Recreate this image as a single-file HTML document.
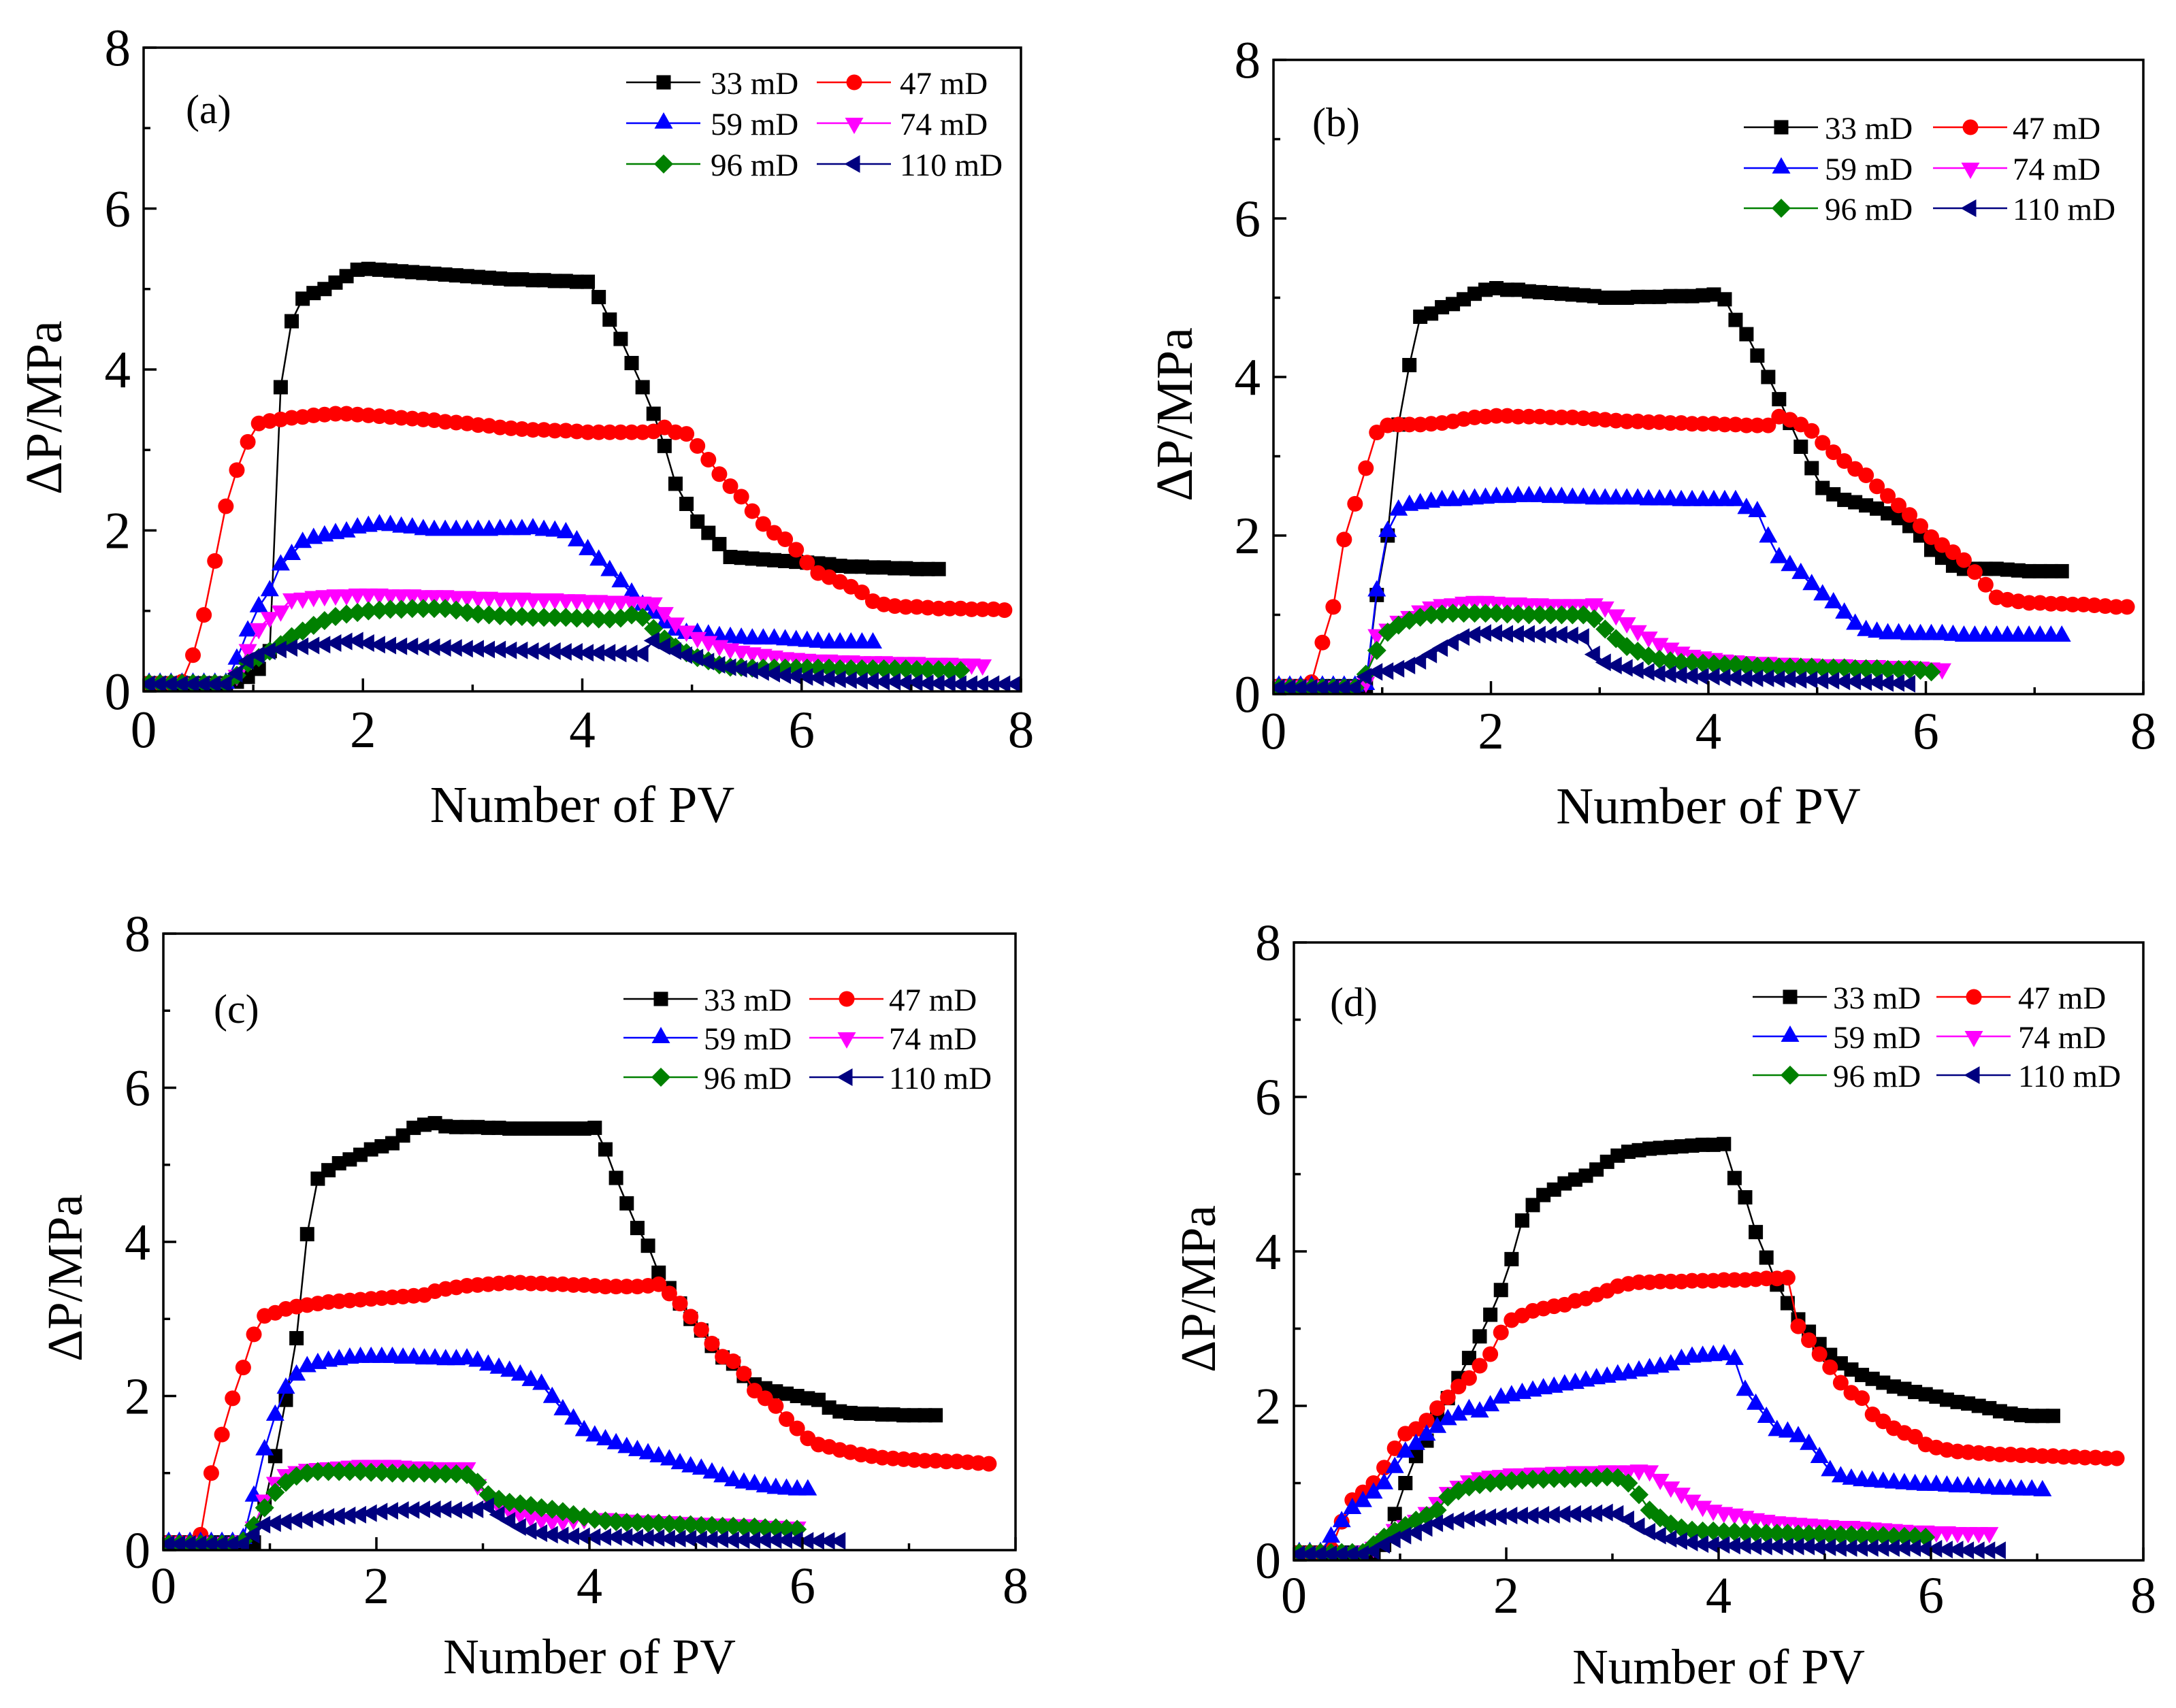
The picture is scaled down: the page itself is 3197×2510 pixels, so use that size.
<!DOCTYPE html>
<html lang="en">
<head>
<meta charset="utf-8">
<title>Pressure difference versus number of PV</title>
<style>
html,body{margin:0;padding:0;background:#fff;}
svg{display:block;}
text{font-family:"Liberation Serif","DejaVu Serif",serif;fill:#000;}
</style>
</head>
<body>
<svg id="figure" xmlns="http://www.w3.org/2000/svg" width="3197" height="2510" viewBox="0 0 3197 2510"></svg>
<script>
const pvValues = [
.05,.15,.25,.35,.45,.55,.65,.75,.85,.95,
1.05,1.15,1.25,1.35,1.45,1.55,1.65,1.75,1.85,1.95,
2.05,2.15,2.25,2.35,2.45,2.55,2.65,2.75,2.85,2.95,
3.05,3.15,3.25,3.35,3.45,3.55,3.65,3.75,3.85,3.95,
4.05,4.15,4.25,4.35,4.45,4.55,4.65,4.75,4.85,4.95,
5.05,5.15,5.25,5.35,5.45,5.55,5.65,5.75,5.85,5.95,
6.05,6.15,6.25,6.35,6.45,6.55,6.65,6.75,6.85,6.95,
7.05,7.15,7.25,7.35,7.45,7.55,7.65,7.75,7.85,7.95];

const seriesLabels = ['33 mD','47 mD','59 mD','74 mD','96 mD','110 mD'];
const majorTicks = [0,2,4,6,8];
const minorTicks = [1,3,5,7];

const a33 = [
.1,.1,.1,.1,.1,.1,.1,.1,.12,.18,
.28,.5,3.78,4.6,4.88,4.95,5.0,5.08,5.16,5.24,
5.25,5.24,5.23,5.22,5.21,5.2,5.19,5.18,5.17,5.16,
5.15,5.14,5.13,5.12,5.12,5.11,5.11,5.1,5.1,5.09,
5.09,4.9,4.62,4.38,4.08,3.78,3.45,3.05,2.58,2.33,
2.11,1.97,1.83,1.67,1.66,1.65,1.64,1.63,1.62,1.61,
1.6,1.59,1.58,1.56,1.55,1.55,1.54,1.54,1.53,1.53,
1.52,1.52,1.52];
const a47 = [
.1,.1,.1,.12,.45,.95,1.62,2.3,2.75,3.1,
3.33,3.36,3.38,3.4,3.41,3.43,3.44,3.45,3.45,3.44,
3.43,3.42,3.41,3.4,3.39,3.38,3.37,3.35,3.34,3.33,
3.31,3.3,3.28,3.27,3.26,3.25,3.25,3.24,3.24,3.23,
3.22,3.22,3.22,3.22,3.22,3.22,3.23,3.28,3.22,3.2,
3.05,2.88,2.7,2.55,2.42,2.24,2.08,1.97,1.89,1.76,
1.6,1.47,1.42,1.36,1.3,1.23,1.12,1.08,1.06,1.05,
1.05,1.04,1.03,1.03,1.03,1.02,1.02,1.02,1.01];
const a59 = [
.1,.1,.1,.1,.1,.1,.1,.1,.4,.75,
1.05,1.25,1.57,1.7,1.85,1.9,1.93,1.96,1.98,2.03,
2.05,2.07,2.06,2.04,2.03,2.01,2.0,2.0,2.0,2.0,
2.0,2.0,2.01,2.01,2.01,2.02,2.0,1.99,1.97,1.87,
1.76,1.63,1.5,1.36,1.22,1.07,.97,.85,.76,.72,
.72,.7,.68,.67,.66,.65,.65,.65,.64,.63,
.62,.61,.6,.6,.6,.6,.6];
const a74 = [
.1,.1,.1,.1,.1,.1,.1,.1,.2,.52,
.78,.92,1.0,1.15,1.16,1.18,1.19,1.2,1.2,1.21,
1.21,1.21,1.2,1.2,1.2,1.19,1.19,1.19,1.18,1.18,
1.17,1.17,1.16,1.16,1.16,1.15,1.15,1.15,1.14,1.14,
1.13,1.13,1.12,1.12,1.11,1.11,1.1,.98,.85,.75,
.67,.62,.57,.53,.5,.48,.46,.44,.42,.41,
.4,.39,.39,.38,.38,.37,.37,.37,.36,.36,
.36,.35,.35,.35,.34,.34,.33];
const a96 = [
.1,.1,.1,.1,.1,.1,.1,.1,.2,.35,
.42,.5,.58,.68,.75,.82,.88,.93,.96,.98,
1.0,1.01,1.02,1.02,1.03,1.03,1.03,1.03,1.01,.98,
.96,.95,.94,.93,.93,.92,.92,.92,.92,.91,
.91,.9,.9,.91,.95,.92,.78,.65,.55,.48,
.42,.38,.33,.3,.3,.29,.29,.29,.29,.29,
.29,.29,.29,.28,.28,.28,.28,.28,.28,.28,
.27,.27,.27,.26,.26];
const a110 = [
.09,.09,.09,.09,.09,.09,.09,.09,.22,.38,
.45,.5,.52,.54,.56,.57,.58,.6,.62,.63,
.6,.58,.57,.56,.56,.55,.55,.54,.54,.53,
.53,.52,.52,.51,.51,.5,.5,.5,.49,.49,
.48,.48,.48,.47,.47,.47,.63,.56,.5,.45,
.42,.37,.33,.3,.28,.26,.24,.22,.2,.19,
.18,.17,.16,.15,.14,.13,.13,.12,.12,.11,
.11,.1,.1,.1,.09,.09,.09,.09,.09,.09];

const b33 = [
.1,.1,.1,.1,.1,.1,.1,.1,.1,1.25,
2.0,3.4,4.15,4.76,4.8,4.88,4.92,4.98,5.05,5.1,
5.12,5.1,5.1,5.08,5.07,5.06,5.05,5.04,5.03,5.02,
5.0,5.0,5.0,5.01,5.01,5.01,5.02,5.02,5.02,5.03,
5.04,4.98,4.72,4.54,4.27,4.0,3.72,3.42,3.12,2.85,
2.6,2.52,2.45,2.42,2.38,2.34,2.28,2.22,2.12,2.0,
1.82,1.72,1.62,1.58,1.58,1.58,1.58,1.57,1.56,1.55,
1.55,1.55,1.55];
const b47 = [
.1,.1,.1,.15,.65,1.1,1.95,2.4,2.85,3.3,
3.39,3.4,3.4,3.4,3.41,3.42,3.44,3.47,3.49,3.5,
3.51,3.51,3.5,3.5,3.5,3.49,3.49,3.49,3.48,3.47,
3.46,3.45,3.44,3.44,3.43,3.43,3.42,3.42,3.41,3.41,
3.41,3.4,3.4,3.39,3.39,3.39,3.5,3.46,3.4,3.32,
3.17,3.05,2.94,2.84,2.76,2.62,2.5,2.38,2.26,2.12,
1.98,1.88,1.79,1.69,1.54,1.38,1.22,1.19,1.17,1.15,
1.15,1.14,1.14,1.13,1.13,1.12,1.11,1.1,1.1];
const b59 = [
.1,.1,.1,.1,.1,.1,.1,.1,.12,1.3,
2.05,2.32,2.38,2.4,2.42,2.44,2.44,2.45,2.46,2.47,
2.48,2.48,2.49,2.49,2.49,2.48,2.48,2.47,2.47,2.46,
2.46,2.46,2.46,2.46,2.45,2.45,2.45,2.44,2.44,2.44,
2.44,2.44,2.44,2.34,2.3,1.98,1.72,1.62,1.52,1.38,
1.25,1.15,1.02,.88,.8,.78,.76,.76,.75,.75,
.75,.75,.74,.73,.73,.73,.73,.73,.73,.73,
.73,.73,.73];
const b74 = [
.1,.1,.1,.1,.1,.1,.1,.1,.15,.75,
.82,.92,.98,1.05,1.1,1.13,1.14,1.16,1.17,1.17,
1.16,1.15,1.15,1.14,1.14,1.13,1.13,1.13,1.13,1.14,
1.1,1.0,.9,.8,.72,.64,.58,.53,.49,.47,
.45,.43,.42,.41,.4,.4,.39,.39,.38,.38,
.37,.37,.37,.36,.36,.36,.35,.35,.35,.34,
.33,.32];
const b96 = [
.08,.08,.08,.08,.08,.08,.08,.08,.25,.55,
.78,.87,.93,.97,1.0,1.01,1.02,1.02,1.02,1.02,
1.02,1.01,1.01,1.0,1.0,1.0,1.0,1.0,1.0,.95,
.82,.7,.6,.54,.48,.44,.42,.4,.4,.39,
.38,.37,.37,.36,.35,.35,.34,.34,.34,.34,
.33,.33,.33,.32,.32,.32,.31,.31,.31,.3,
.28];
const b110 = [
.08,.08,.08,.08,.08,.08,.08,.08,.22,.28,
.29,.32,.36,.42,.5,.58,.65,.72,.75,.77,
.77,.76,.76,.76,.75,.75,.75,.74,.72,.5,
.4,.36,.33,.3,.28,.26,.25,.24,.23,.22,
.22,.21,.21,.2,.2,.2,.19,.19,.18,.18,
.17,.17,.16,.16,.15,.15,.14,.14,.13];

const c33 = [
.1,.1,.1,.1,.1,.1,.1,.1,.1,.6,
1.22,1.95,2.75,4.1,4.82,4.93,5.02,5.07,5.13,5.2,
5.24,5.28,5.38,5.48,5.52,5.54,5.5,5.49,5.49,5.49,
5.48,5.48,5.47,5.47,5.47,5.47,5.47,5.47,5.47,5.47,
5.48,5.2,4.83,4.5,4.18,3.95,3.6,3.4,3.2,3.0,
2.85,2.65,2.5,2.42,2.26,2.15,2.1,2.06,2.03,2.0,
1.97,1.95,1.85,1.8,1.78,1.77,1.77,1.76,1.76,1.75,
1.75,1.75,1.75];
const c47 = [
.1,.1,.1,.2,1.0,1.5,1.97,2.37,2.8,3.04,
3.08,3.13,3.16,3.18,3.2,3.22,3.23,3.24,3.25,3.26,
3.27,3.28,3.29,3.3,3.31,3.36,3.39,3.41,3.43,3.44,
3.45,3.46,3.47,3.47,3.46,3.46,3.45,3.45,3.44,3.44,
3.43,3.42,3.42,3.42,3.42,3.43,3.45,3.33,3.2,3.03,
2.86,2.68,2.51,2.45,2.29,2.07,1.97,1.87,1.7,1.58,
1.45,1.37,1.34,1.3,1.27,1.24,1.22,1.2,1.19,1.18,
1.17,1.16,1.16,1.15,1.15,1.14,1.13,1.12];
const c59 = [
.1,.1,.1,.1,.1,.1,.1,.15,.7,1.3,
1.75,2.1,2.27,2.38,2.42,2.45,2.47,2.49,2.5,2.5,
2.5,2.5,2.49,2.49,2.48,2.48,2.47,2.47,2.48,2.45,
2.4,2.36,2.32,2.27,2.2,2.15,1.98,1.82,1.7,1.55,
1.48,1.43,1.38,1.33,1.29,1.25,1.21,1.17,1.12,1.08,
1.05,1.0,.95,.9,.87,.85,.82,.8,.79,.78,
.78];
const c74 = [
.1,.1,.1,.1,.1,.1,.1,.12,.3,.65,
.88,.98,1.02,1.05,1.06,1.07,1.08,1.09,1.1,1.1,
1.1,1.1,1.09,1.08,1.08,1.07,1.07,1.07,1.07,.85,
.68,.58,.52,.47,.43,.4,.38,.38,.4,.41,
.41,.41,.4,.39,.38,.38,.37,.37,.36,.35,
.35,.34,.34,.33,.33,.32,.31,.31,.3,.3];
const c96 = [
.08,.08,.08,.08,.08,.08,.08,.12,.32,.55,
.75,.88,.96,1.0,1.02,1.02,1.02,1.02,1.02,1.01,
1.01,1.0,1.0,1.0,1.0,.99,.99,.99,.98,.88,
.72,.66,.62,.6,.58,.55,.53,.5,.46,.43,
.4,.38,.37,.36,.36,.35,.35,.34,.33,.33,
.32,.32,.31,.31,.3,.3,.29,.29,.28,.27];
const c110 = [
.08,.08,.08,.08,.08,.08,.08,.08,.2,.33,
.35,.37,.39,.4,.42,.43,.44,.45,.46,.48,
.5,.51,.52,.52,.53,.53,.53,.52,.52,.53,
.57,.46,.38,.3,.25,.22,.2,.19,.18,.18,
.17,.17,.17,.17,.16,.16,.16,.15,.15,.15,
.14,.14,.14,.13,.13,.13,.13,.13,.13,.13,
.12,.12,.12,.12];

const d33 = [
.1,.1,.1,.1,.1,.1,.1,.1,.2,.6,
1.0,1.35,1.55,1.85,2.1,2.36,2.62,2.9,3.18,3.5,
3.9,4.4,4.6,4.73,4.8,4.88,4.93,4.98,5.06,5.16,
5.24,5.29,5.31,5.33,5.34,5.35,5.36,5.37,5.38,5.38,
5.39,4.95,4.7,4.25,3.92,3.57,3.33,3.12,2.96,2.8,
2.66,2.55,2.47,2.4,2.35,2.3,2.25,2.22,2.18,2.15,
2.12,2.08,2.05,2.03,2.0,1.97,1.93,1.9,1.88,1.87,
1.87,1.87];
const d47 = [
.1,.1,.1,.15,.5,.78,.88,1.0,1.2,1.45,
1.64,1.7,1.81,1.97,2.11,2.25,2.36,2.52,2.67,2.95,
3.11,3.17,3.23,3.26,3.29,3.31,3.36,3.39,3.44,3.49,
3.55,3.58,3.6,3.6,3.61,3.61,3.61,3.62,3.62,3.62,
3.63,3.63,3.63,3.64,3.65,3.65,3.66,3.03,2.85,2.67,
2.5,2.3,2.17,2.1,1.89,1.8,1.71,1.65,1.6,1.5,
1.46,1.43,1.41,1.4,1.39,1.38,1.37,1.37,1.36,1.36,
1.35,1.35,1.34,1.34,1.33,1.33,1.32,1.32];
const d59 = [
.1,.1,.1,.3,.5,.67,.76,.87,.99,1.2,
1.4,1.5,1.62,1.72,1.82,1.88,1.95,1.92,2.0,2.1,
2.13,2.16,2.19,2.22,2.24,2.27,2.29,2.32,2.35,2.37,
2.4,2.42,2.45,2.48,2.5,2.53,2.6,2.63,2.64,2.65,
2.66,2.6,2.2,2.02,1.85,1.68,1.66,1.6,1.5,1.33,
1.16,1.08,1.05,1.03,1.02,1.01,1.0,.99,.98,.97,
.97,.96,.95,.95,.94,.93,.92,.92,.91,.91,
.9];
const d74 = [
.1,.1,.1,.1,.1,.1,.12,.17,.28,.4,
.45,.52,.62,.75,.88,.96,1.03,1.07,1.09,1.1,
1.12,1.12,1.13,1.13,1.14,1.14,1.15,1.15,1.15,1.16,
1.16,1.16,1.17,1.16,1.05,.95,.87,.78,.7,.65,
.62,.6,.57,.54,.52,.5,.49,.48,.47,.46,
.45,.44,.44,.43,.42,.41,.4,.39,.38,.38,
.37,.37,.36,.36,.36,.36];
const d96 = [
.1,.1,.1,.1,.1,.1,.1,.2,.3,.38,
.45,.52,.58,.65,.82,.9,.95,.98,1.0,1.02,
1.03,1.04,1.05,1.05,1.06,1.06,1.06,1.07,1.07,1.08,
1.07,1.0,.85,.65,.55,.47,.42,.39,.38,.38,
.37,.37,.36,.36,.35,.35,.35,.34,.34,.34,
.33,.33,.33,.32,.32,.32,.31,.31,.31,.3];
const d110 = [
.08,.08,.08,.08,.08,.08,.08,.12,.2,.27,
.32,.36,.42,.48,.5,.52,.54,.55,.56,.57,
.58,.58,.58,.59,.59,.6,.6,.6,.61,.62,
.6,.53,.44,.37,.32,.28,.25,.23,.21,.2,
.2,.19,.19,.18,.18,.18,.18,.18,.18,.17,
.17,.16,.16,.16,.16,.16,.16,.16,.16,.15,
.15,.14,.14,.13,.13,.13,.13];

const panelASeries = [a33,a47,a59,a74,a96,a110];
const panelBSeries = [b33,b47,b59,b74,b96,b110];
const panelCSeries = [c33,c47,c59,c74,c96,c110];
const panelDSeries = [d33,d47,d59,d74,d96,d110];

const NS = 'http://www.w3.org/2000/svg';
const figure = document.getElementById('figure');

function make(tag, attrs, parent) {
  const node = document.createElementNS(NS, tag);
  for (const key in attrs) node.setAttribute(key, attrs[key]);
  parent.appendChild(node);
  return node;
}

const seriesStyles = [
  {color:'#000000', shape:'square'},
  {color:'#ff0000', shape:'circle'},
  {color:'#0000ff', shape:'up'},
  {color:'#ff00ff', shape:'down'},
  {color:'#008000', shape:'diamond'},
  {color:'#000080', shape:'left'}
];

function drawMarker(parent, shape, x, y, color) {
  let node;
  if (shape === 'square') {
    node = make('rect', {x:x-10.5, y:y-10.5, width:21, height:21, fill:color}, parent);
  } else if (shape === 'circle') {
    node = make('ellipse', {cx:x, cy:y, rx:11.5, ry:11.5, fill:color}, parent);
  } else {
    const shapes = {
      up: [[0,-16],[13.5,8],[-13.5,8]],
      down: [[0,16],[13.5,-8],[-13.5,-8]],
      diamond: [[0,-14],[14,0],[0,14],[-14,0]],
      left: [[-14.5,0],[8.5,-13],[8.5,13]]
    };
    const pts = shapes[shape].map(p => (x+p[0]) + ',' + (y+p[1])).join(' ');
    node = make('polygon', {points:pts, fill:color}, parent);
  }
  
  
}

function drawPanel(cfg) {
  const group = make('g', {}, figure);
  
  

  const sx = v => cfg.left + (v / 8) * (cfg.right - cfg.left);
  const sy = v => cfg.bottom - (v / 8) * (cfg.bottom - cfg.top);

  const clip = make('clipPath', {id:'plot-clip-' + cfg.key}, group);
  make('rect', {x:cfg.left, y:cfg.top, width:cfg.right-cfg.left, height:cfg.bottom-cfg.top}, clip);

  const plot = make('g', {'clip-path':'url(#plot-clip-' + cfg.key + ')'}, group);
  
  

  cfg.series.forEach((values, s) => {
    const style = seriesStyles[s];
    const sg = make('g', {}, plot);
    
    
    const pts = values.map((v, i) => sx(pvValues[i]).toFixed(1) + ',' + sy(v).toFixed(1)).join(' ');
    const line = make('polyline', {points:pts, fill:'none', stroke:style.color, 'stroke-width':2.5}, sg);
    
    
    values.forEach((v, i) => drawMarker(sg, style.shape, sx(pvValues[i]), sy(v), style.color));
  });

  const frame = make('rect', {x:cfg.left, y:cfg.top, width:cfg.right-cfg.left, height:cfg.bottom-cfg.top, fill:'none', stroke:'#000', 'stroke-width':3.5}, group);
  
  

  majorTicks.forEach(v => {
    const xt = make('line', {x1:sx(v), x2:sx(v), y1:cfg.bottom, y2:cfg.bottom-19, stroke:'#000', 'stroke-width':3.5}, group);
    
    
    const yt = make('line', {x1:cfg.left, x2:cfg.left+19, y1:sy(v), y2:sy(v), stroke:'#000', 'stroke-width':3.5}, group);
    
    
    const xl = make('text', {x:sx(v), y:cfg.bottom+cfg.xTickOffset, 'text-anchor':'middle', 'font-size':cfg.tickSize}, group);
    xl.textContent = String(v);
    
    
    const yl = make('text', {x:cfg.left-19, y:sy(v)+26, 'text-anchor':'end', 'font-size':cfg.tickSize}, group);
    yl.textContent = String(v);
    
    
  });
  minorTicks.forEach(v => {
    const xt = make('line', {x1:sx(v), x2:sx(v), y1:cfg.bottom, y2:cfg.bottom-10, stroke:'#000', 'stroke-width':3.5}, group);
    
    
    const yt = make('line', {x1:cfg.left, x2:cfg.left+10, y1:sy(v), y2:sy(v), stroke:'#000', 'stroke-width':3.5}, group);
    
    
  });

  const xTitle = make('text', {x:(cfg.left+cfg.right)/2, y:cfg.xTitleY, 'text-anchor':'middle', 'font-size':cfg.titleSize}, group);
  xTitle.textContent = 'Number of PV';
  
  

  const yTitle = make('text', {transform:'translate(' + cfg.yTitleX + ',' + cfg.yTitleY + ') rotate(-90)', 'text-anchor':'middle', 'font-size':cfg.titleSize}, group);
  yTitle.textContent = 'ΔP/MPa';
  
  

  const tag = make('text', {x:cfg.tagX, y:cfg.tagY, 'font-size':60}, group);
  tag.textContent = '(' + cfg.key + ')';
  
  

  const legend = make('g', {}, group);
  
  
  seriesLabels.forEach((label, s) => {
    const col = s % 2;
    const row = Math.floor(s / 2);
    const lx = cfg.legendX[col];
    const ly = cfg.legendY[row];
    const style = seriesStyles[s];
    const entry = make('g', {}, legend);
    
    
    make('line', {x1:lx, x2:lx+109, y1:ly, y2:ly, stroke:style.color, 'stroke-width':2.5}, entry);
    drawMarker(entry, style.shape, lx+55, ly, style.color);
    const text = make('text', {x:cfg.legendTextX[col], y:ly+17, 'font-size':47}, entry);
    text.textContent = label;
    
    
  });
}

drawPanel({key:'a', series:panelASeries, left:211, right:1500, top:70, bottom:1016,
  xTickOffset:82, tickSize:77, titleSize:76, xTitleY:1208, yTitleX:90, yTitleY:599,
  tagX:273, tagY:181, legendX:[920,1200], legendY:[121,181,241], legendTextX:[1044,1322]});
drawPanel({key:'b', series:panelBSeries, left:1871, right:3149, top:88, bottom:1020,
  xTickOffset:80, tickSize:77, titleSize:76, xTitleY:1210, yTitleX:1751, yTitleY:609,
  tagX:1928, tagY:200, legendX:[2562,2840], legendY:[187,247,306], legendTextX:[2681,2957]});
drawPanel({key:'c', series:panelCSeries, left:240, right:1492, top:1372, bottom:2278,
  xTickOffset:78, tickSize:76, titleSize:73, xTitleY:2459, yTitleX:120, yTitleY:1878,
  tagX:314, tagY:1503, legendX:[916,1189], legendY:[1468,1525,1583], legendTextX:[1034,1306]});
drawPanel({key:'d', series:panelDSeries, left:1901, right:3149, top:1385, bottom:2293,
  xTickOffset:77, tickSize:76, titleSize:73, xTitleY:2474, yTitleX:1785, yTitleY:1894,
  tagX:1954, tagY:1493, legendX:[2575,2845], legendY:[1465,1523,1580], legendTextX:[2693,2965]});
</script>
</body>
</html>
